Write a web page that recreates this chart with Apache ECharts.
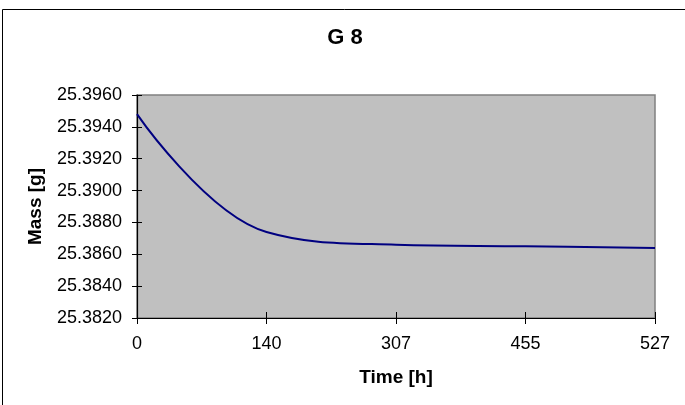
<!DOCTYPE html>
<html>
<head>
<meta charset="utf-8">
<style>
  html, body { margin: 0; padding: 0; background: #ffffff; }
  #chart { width: 685px; height: 405px; }
</style>
<script src="https://cdn.jsdelivr.net/npm/echarts@6/dist/echarts.min.js"></script>
</head>
<body>
<div id="chart"></div>
<script>
// Sample G 8: mass over time
const chartTitle = 'G 8';
const timeLabels = ['0', '140', '307', '455', '527'];
const massValues = [25.3948, 25.3874, 25.3866, 25.3865, 25.3864];
const massMin = 25.382;
const massMax = 25.396;
const massStep = 0.002;

const FONT = '"Liberation Sans", Arial, sans-serif';

const chart = echarts.init(document.getElementById('chart'), null, { renderer: 'canvas' });

const catAxisBase = {
  type: 'category',
  data: timeLabels,
  boundaryGap: false,
  position: 'bottom'
};
const valAxisBase = {
  type: 'value',
  min: massMin,
  max: massMax,
  interval: massStep,
  position: 'left',
  splitLine: { show: false }
};

chart.setOption({
  animation: false,
  backgroundColor: '#ffffff',
  title: {
    text: chartTitle,
    left: 345,
    textAlign: 'center',
    top: 27,
    padding: 0,
    textStyle: { fontFamily: FONT, fontSize: 22, fontWeight: 'bold', color: '#000' }
  },
  graphic: [{
    type: 'rect',
    shape: { x: 2.5, y: 9.5, width: 720, height: 430 },
    style: { fill: 'none', stroke: '#000', lineWidth: 1 },
    silent: true,
    z: -10
  }],
  grid: {
    left: 137, right: 30, top: 95, bottom: 87,
    show: true,
    backgroundColor: '#C0C0C0',
    borderColor: '#808080',
    borderWidth: 1.5
  },
  xAxis: [
    Object.assign({}, catAxisBase, {
      name: 'Time [h]',
      nameLocation: 'middle',
      nameGap: 50,
      nameTextStyle: { fontFamily: FONT, fontSize: 19, fontWeight: 'bold', color: '#000' },
      axisLine: { lineStyle: { color: '#000', width: 1.2 } },
      axisTick: { length: 6, lineStyle: { color: '#000', width: 1 } },
      axisLabel: { margin: 17, fontFamily: FONT, fontSize: 18, color: '#000' }
    }),
    Object.assign({}, catAxisBase, {
      axisLine: { show: false },
      axisTick: { inside: true, length: 6, lineStyle: { color: '#000', width: 1 } },
      axisLabel: { show: false }
    })
  ],
  yAxis: [
    Object.assign({}, valAxisBase, {
      name: 'Mass [g]',
      nameLocation: 'middle',
      nameGap: 92,
      nameTextStyle: { fontFamily: FONT, fontSize: 19, fontWeight: 'bold', color: '#000' },
      axisLine: { show: true, lineStyle: { color: '#000', width: 1.2 } },
      axisTick: { show: true, length: 5, lineStyle: { color: '#000', width: 1 } },
      axisLabel: {
        margin: 15, fontFamily: FONT, fontSize: 18, color: '#000',
        formatter: v => v.toFixed(4)
      }
    }),
    Object.assign({}, valAxisBase, {
      axisLine: { show: false },
      axisTick: { show: true, inside: true, length: 5, lineStyle: { color: '#000', width: 1 } },
      axisLabel: { show: false }
    })
  ],
  series: [{
    type: 'line',
    data: massValues,
    xAxisIndex: 0,
    yAxisIndex: 0,
    smooth: 0.4,
    showSymbol: false,
    lineStyle: { color: '#000080', width: 2 },
    z: 5
  }]
});
</script>
</body>
</html>
